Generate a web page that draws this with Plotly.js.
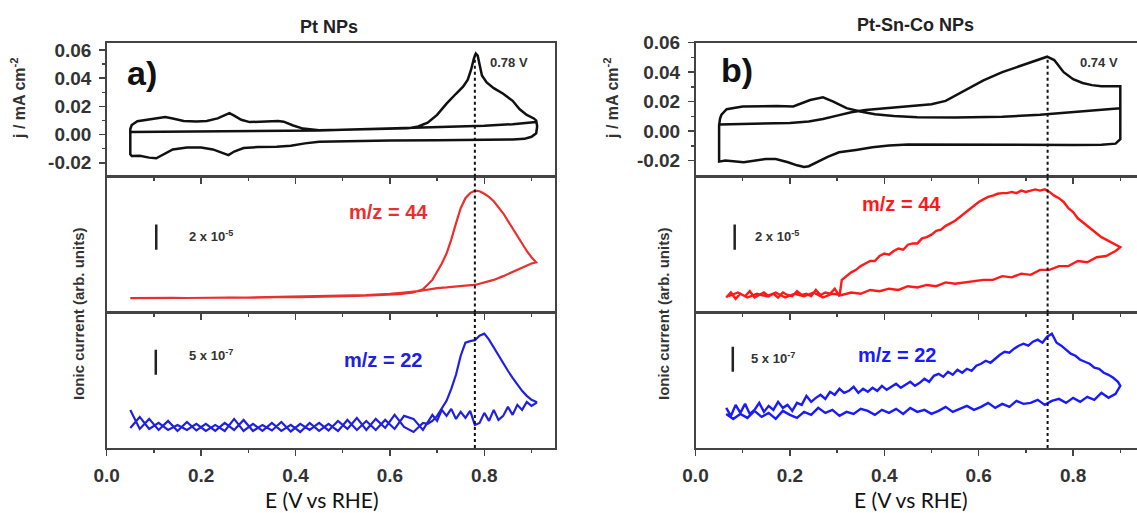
<!DOCTYPE html>
<html><head><meta charset="utf-8">
<script src="https://cdn.plot.ly/plotly-3.0.1.min.js"></script>
<style>html,body{margin:0;padding:0;overflow:hidden;background:#fff}#chart{width:1150px;height:513px}</style>
</head><body><div id="chart"></div>
<script>
// ---------- DATA ----------
const titleA = 'Pt NPs', titleB = 'Pt-Sn-Co NPs';
const peakA = 0.78, peakB = 0.746;
const peakLabelA = '0.78 V', peakLabelB = '0.74 V';
const xTicks = [0.0, 0.2, 0.4, 0.6, 0.8];
const xTickText = ['0.0', '0.2', '0.4', '0.6', '0.8'];
const jTicks = [-0.02, 0.00, 0.02, 0.04, 0.06];
const jTickText = ['-0.02', '0.00', '0.02', '0.04', '0.06'];

// CV Pt (mA cm-2)
const cvA_E = [0.05,0.1,0.2,0.3,0.4,0.45,0.5,0.55,0.6,0.64,0.66,0.68,0.70,0.72,0.74,0.755,0.765,0.772,0.778,0.782,0.786,0.79,0.795,0.805,0.82,0.84,0.86,0.875,0.89,0.905,0.91,
 0.912,0.91,0.9,0.885,0.86,0.8,0.7,0.6,0.5,0.45,0.42,0.39,0.36,0.32,0.29,0.27,0.258,0.245,0.225,0.2,0.17,0.14,0.12,0.105,0.09,0.07,0.053,0.05,
 0.05,0.053,0.065,0.085,0.105,0.124,0.14,0.163,0.19,0.212,0.235,0.25,0.26,0.27,0.285,0.303,0.34,0.363,0.375,0.395,0.416,0.45,0.5,0.6,0.7,0.8,0.86,0.9,0.91];
const cvA_J = [0.0018,0.0019,0.0020,0.0022,0.0026,0.003,0.0034,0.0037,0.0041,0.0046,0.0058,0.0085,0.014,0.022,0.029,0.034,0.039,0.046,0.054,0.0575,0.056,0.049,0.042,0.037,0.033,0.029,0.024,0.018,0.014,0.0115,0.010,
 0.006,0.001,-0.0015,-0.003,-0.0035,-0.0038,-0.004,-0.0042,-0.0045,-0.005,-0.0062,-0.0078,-0.0086,-0.0088,-0.0095,-0.012,-0.0145,-0.013,-0.0105,-0.0092,-0.0092,-0.0105,-0.014,-0.0168,-0.0163,-0.015,-0.0152,-0.014,
 0.004,0.0068,0.0095,0.0106,0.0118,0.0125,0.0115,0.0097,0.0094,0.0097,0.0115,0.014,0.0152,0.0135,0.0105,0.0089,0.0091,0.0097,0.0092,0.0065,0.0043,0.0032,0.0035,0.0043,0.0052,0.0063,0.0074,0.0085,0.009];

// CV Pt-Sn-Co (mA cm-2)
const cvB_E = [0.05,0.1,0.15,0.2,0.24,0.27,0.3,0.33,0.36,0.39,0.42,0.46,0.5,0.53,0.57,0.61,0.65,0.69,0.72,0.745,0.76,0.78,0.80,0.82,0.84,0.86,0.9,0.9,
 0.9,0.89,0.86,0.8,0.6,0.5,0.45,0.41,0.375,0.34,0.304,0.28,0.258,0.24,0.23,0.215,0.196,0.17,0.149,0.125,0.102,0.08,0.063,0.05,
 0.05,0.052,0.055,0.066,0.1,0.172,0.207,0.243,0.27,0.292,0.32,0.349,0.38,0.42,0.47,0.55,0.65,0.73,0.8,0.86,0.9];
const cvB_J = [0.0045,0.0048,0.005,0.0055,0.0065,0.0082,0.0105,0.0128,0.0143,0.0152,0.0163,0.0172,0.0183,0.0205,0.0275,0.0345,0.040,0.0442,0.0478,0.0505,0.0482,0.040,0.0352,0.0327,0.0312,0.0305,0.0305,0.026,
 -0.0055,-0.0085,-0.0093,-0.0095,-0.0095,-0.0094,-0.009,-0.0098,-0.011,-0.0128,-0.0144,-0.0175,-0.0211,-0.0238,-0.0244,-0.0232,-0.0211,-0.019,-0.0189,-0.0202,-0.0211,-0.0205,-0.020,-0.0207,
 0.004,0.0085,0.0111,0.0149,0.0167,0.0171,0.0167,0.0211,0.0229,0.020,0.0156,0.0133,0.0115,0.0102,0.0094,0.0093,0.0097,0.0111,0.0128,0.0145,0.0156];

// m/z = 44, Pt (units of 1e-5)
const ms44A_E = [0.05,0.08,0.11,0.14,0.17,0.2,0.23,0.26,0.29,0.32,0.35,0.38,0.41,0.44,0.47,0.5,0.53,0.56,0.59,0.62,0.65,
 0.67,0.69,0.70,0.71,0.72,0.73,0.74,0.75,0.76,0.77,0.78,0.79,0.80,0.81,0.82,0.83,0.84,0.85,0.86,0.87,0.88,0.89,0.90,0.91,
 0.90,0.88,0.86,0.84,0.82,0.80,0.78,0.76,0.74,0.72,0.70,0.68,0.66,0.63,0.60,0.55,0.50,0.45,0.40,0.35,0.30,0.25,0.20,0.15,0.10,0.05];
const ms44A_I = [1.15,1.17,1.14,1.18,1.16,1.19,1.17,1.2,1.18,1.22,1.2,1.24,1.23,1.27,1.26,1.3,1.33,1.36,1.42,1.47,1.6,
 1.85,2.6,3.2,3.9,4.7,5.8,7.1,8.3,9.1,9.5,9.7,9.65,9.45,9.2,8.85,8.4,7.9,7.3,6.7,6.1,5.4,4.9,4.4,4.0,
 3.9,3.55,3.2,2.9,2.6,2.4,2.2,2.15,2.05,2.0,1.95,1.8,1.7,1.6,1.5,1.4,1.35,1.3,1.25,1.22,1.2,1.18,1.17,1.16,1.15,1.15];

// m/z = 22, Pt (units of 1e-7)
const ms22A_fwdE = [0.05,0.07,0.09,0.11,0.13,0.15,0.17,0.19,0.21,0.23,
 0.25,0.27,0.29,0.31,0.33,0.35,0.37,0.39,0.41,0.43,
 0.45,0.47,0.49,0.51,0.53,0.55,0.57,0.59,0.61,0.63,
 0.65,0.67,
 0.68,0.69,0.70,0.71,0.72,0.73,0.74,0.75,0.76,0.77,0.78,0.79,0.80,0.81,0.82,0.83,0.84,0.85,0.86,0.87,0.88,0.89,0.90,0.91];
const ms22A_fwdI = [7.6,3.8,5.8,3.6,5.4,3.4,5.2,3.5,4.8,3.4,
 5.0,3.6,5.6,3.4,4.6,3.5,5.2,3.3,4.8,3.6,
 5.0,3.5,5.4,3.8,6.0,3.6,5.8,4.0,6.6,4.2,
 3.2,5.0,
 4.8,5.4,6.4,7.8,9.4,11.8,14.6,18.4,21.0,21.3,21.5,22.4,22.8,21.6,20.0,18.4,16.8,15.4,14.0,12.6,11.4,10.4,9.6,9.2];
const ms22A_revE = [0.91,0.90,0.89,0.88,0.87,0.86,0.85,0.84,0.83,0.82,
 0.81,0.80,0.79,0.78,0.77,0.76,0.75,0.74,0.73,0.72,
 0.71,0.70,0.69,
 0.67,0.65,0.63,0.61,0.59,0.57,0.55,0.53,0.51,0.49,
 0.47,0.45,0.43,0.41,0.39,0.37,0.35,0.33,0.31,0.29,
 0.27,0.25,0.23,0.21,0.19,0.17,0.15,0.13,0.11,0.09,
 0.07,0.05];
const ms22A_revI = [9.0,8.4,9.2,7.6,8.6,6.6,8.2,6.4,5.6,7.6,
 5.4,7.0,5.0,4.6,7.4,6.0,7.2,5.8,7.8,6.4,
 7.6,5.4,6.6,
 3.6,5.8,6.4,3.8,5.6,3.6,5.4,3.6,5.6,3.4,
 4.8,3.4,5.0,3.2,4.6,3.4,5.0,3.4,4.8,3.4,
 5.8,3.4,4.6,3.4,4.8,3.6,4.6,3.6,5.0,3.8,
 6.2,4.0];

// m/z = 44, Pt-Sn-Co (units of 1e-5)
const ms44B_fwdE = [0.065,0.075,0.085,0.095,0.105,0.115,0.125,0.135,0.145,0.155,
 0.165,0.175,0.185,0.195,0.205,0.215,0.225,0.235,0.245,0.255,
 0.265,0.275,0.285,0.295,0.305,0.31,0.32,0.33,0.34,0.35,
 0.36,0.37,0.38,0.39,0.40,0.41,0.42,0.43,0.44,0.45,
 0.46,0.47,0.48,0.49,0.50,0.51,0.52,0.53,0.54,0.55,
 0.56,0.57,0.58,0.59,0.60,0.61,0.62,0.63,0.64,0.65,
 0.66,0.67,0.68,0.69,0.70,0.71,0.72,0.73,0.74,0.75,
 0.76,0.77,0.78,0.79,0.80,0.81,0.82,0.83,0.84,0.85,
 0.86,0.87,0.88,0.89,0.90];
const ms44B_fwdI = [1.2,1.6,1.1,1.5,1.3,1.7,1.2,1.4,1.6,1.3,
 1.5,1.2,1.6,1.4,1.3,1.7,1.4,1.5,1.3,1.8,
 1.4,1.6,1.5,1.9,1.3,2.6,2.9,3.2,3.4,3.7,
 3.9,4.1,4.1,4.5,4.7,4.6,4.9,5.1,5.0,5.4,
 5.5,5.5,5.9,6.0,6.2,6.5,6.6,6.9,7.1,7.3,
 7.6,7.9,8.2,8.5,8.8,9.0,9.2,9.3,9.45,9.5,
 9.5,9.6,9.5,9.7,9.6,9.7,9.8,9.7,9.8,9.6,
 9.3,9.1,8.8,8.3,8.0,7.5,7.2,6.9,6.6,6.3,
 6.0,5.8,5.6,5.4,5.2];
const ms44B_revE = [0.89,0.87,0.85,0.83,0.81,0.79,0.77,0.75,0.73,0.71,
 0.69,0.67,0.65,0.63,0.61,0.59,0.57,0.55,0.53,0.51,
 0.49,0.47,0.45,0.43,0.41,0.39,0.37,0.35,0.33,0.31,
 0.29,0.27,0.25,0.23,0.21,0.19,0.17,0.15,0.13,0.11,
 0.09,0.07];
const ms44B_revI = [4.9,4.5,4.4,4.0,4.1,3.7,3.7,3.4,3.4,3.0,
 3.1,2.8,2.9,2.6,2.6,2.5,2.4,2.3,2.4,2.1,
 2.2,2.0,2.1,1.8,1.9,1.7,1.8,1.5,1.6,1.4,
 1.5,1.2,1.6,1.3,1.5,1.2,1.6,1.3,1.5,1.2,
 1.6,1.3];

// m/z = 22, Pt-Sn-Co (units of 1e-7)
const ms22B_fwdE = [0.065,0.075,0.085,0.095,0.105,0.115,0.125,0.135,0.145,0.155,
 0.165,0.175,0.185,0.195,0.205,0.215,0.225,0.235,0.245,0.255,
 0.265,0.275,0.285,0.295,0.305,0.315,0.325,0.335,0.345,0.355,
 0.365,0.375,0.385,0.395,0.405,0.415,0.425,0.435,0.445,0.455,
 0.465,0.475,0.485,0.495,0.505,0.515,0.525,0.535,0.545,0.555,
 0.565,0.575,0.585,0.595,0.605,0.615,0.625,0.635,0.645,0.655,
 0.665,0.675,0.685,0.695,0.705,0.715,0.725,0.735,0.745,0.755,
 0.765,0.775,0.785,0.795,0.805,0.815,0.825,0.835,0.845,0.855,
 0.865,0.875,0.885,0.895,0.9];
const ms22B_fwdI = [8.0,6.4,8.6,7.0,8.8,6.8,7.6,9.0,7.2,8.4,
 7.6,9.2,8.0,8.6,7.4,9.0,8.6,10.4,9.2,10.0,
 10.6,9.8,11.2,10.6,11.8,11.0,11.4,12.2,11.0,11.8,
 11.2,12.0,11.4,12.4,11.6,12.2,12.8,12.0,12.6,13.2,
 12.4,13.0,13.8,13.2,14.4,14.8,14.2,15.2,14.6,15.6,
 15.0,15.8,15.4,16.4,16.8,17.4,17.0,17.8,18.6,19.2,
 19.0,19.8,20.4,20.8,20.4,21.2,21.6,21.0,22.2,22.8,
 21.0,20.4,19.6,18.8,18.4,17.6,17.2,16.8,16.0,15.8,
 15.0,14.6,14.0,13.2,12.4];
const ms22B_revE = [0.89,0.875,0.86,0.845,0.83,0.815,0.8,0.785,0.77,0.755,
 0.74,0.725,0.71,0.695,0.68,0.665,0.65,0.635,0.62,0.605,
 0.59,0.575,0.56,0.545,0.53,0.515,0.5,0.485,0.47,0.455,
 0.44,0.425,0.41,0.395,0.38,0.365,0.35,0.335,0.32,0.305,
 0.29,0.275,0.26,0.245,0.23,0.215,0.2,0.185,0.17,0.155,
 0.14,0.125,0.11,0.095,0.08,0.065];
const ms22B_revI = [10.8,10.0,11.0,9.6,10.2,9.2,10.0,9.0,9.8,9.4,
 8.6,9.6,9.0,8.8,9.4,8.2,8.8,8.0,9.0,8.2,
 7.6,8.4,7.8,7.2,8.2,7.4,6.8,7.6,7.2,8.0,
 6.8,7.8,7.0,7.6,6.6,7.4,7.8,6.8,7.2,6.4,
 7.6,7.0,8.0,6.6,7.2,6.0,6.6,7.4,5.8,7.0,
 6.2,7.4,6.0,6.8,5.8,6.8];

// scale bars (value ranges)
const bar44 = [5, 7];        // 2 x 10^-5
const bar22A = [14.6, 19.6]; // 5 x 10^-7
const bar22B = [15.2, 20.2];

// ---------- LAYOUT ----------
const W = 1150, H = 513;
const px = x => x / W, py = y => 1 - y / H;
const domL = [px(106.7), px(555.1)], domR = [px(695.5), px(1143.9)];
const dTop = [py(176.8), py(42.7)], dMid = [py(312.6), py(176.8)], dBot = [py(448), py(312.6)];

const black = '#111', red1 = '#e8302e', red2 = '#ff1a1a', blue1 = '#2020e0', blue2 = '#1a1aff';
const tfont = {family: 'Liberation Sans, Arial, sans-serif', size: 19, color: '#333', weight: 'bold'};

function xax(dom, anchor, labels) {
  return {domain: dom, anchor: anchor, range: [0, 0.95], showgrid: false, zeroline: false,
    showline: true, linecolor: '#444', linewidth: 1.5, mirror: true,
    ticks: 'outside', tickvals: xTicks, ticktext: xTickText, ticklen: 6, tickwidth: 1.5, tickcolor: '#444',
    minor: {tickvals: [0.1, 0.3, 0.5, 0.7, 0.9], ticks: 'outside', ticklen: 3, tickwidth: 1.5, tickcolor: '#444'},
    showticklabels: labels, tickfont: tfont, ticklabelstandoff: 4};
}
function yaxTop(dom, anchor, rng) {
  return {domain: dom, anchor: anchor, range: rng, showgrid: false, zeroline: false,
    showline: true, linecolor: '#444', linewidth: 1.5, mirror: true,
    ticks: 'outside', tickvals: jTicks, ticktext: jTickText, ticklen: 6, tickwidth: 1.5, tickcolor: '#444',
    minor: {tickvals: [-0.01, 0.01, 0.03, 0.05], ticks: 'outside', ticklen: 3, tickwidth: 1.5, tickcolor: '#444'},
    tickfont: tfont, ticklabelstandoff: 4};
}
function yaxPlain(dom, anchor, rng) {
  return {domain: dom, anchor: anchor, range: rng, showgrid: false, zeroline: false,
    showline: true, linecolor: '#444', linewidth: 1.5, mirror: true, ticks: '', showticklabels: false};
}

const line = (x, y, xa, ya, color, w) => ({type: 'scatter', mode: 'lines', x: x, y: y, xaxis: xa, yaxis: ya,
  line: {color: color, width: w, shape: 'linear'}, hoverinfo: 'skip', showlegend: false});

const data = [
  line(cvA_E, cvA_J, 'x', 'y', black, 2.5),
  line(ms44A_E, ms44A_I, 'x2', 'y2', red1, 2.2),
  line(ms22A_fwdE.concat(ms22A_revE), ms22A_fwdI.concat(ms22A_revI), 'x3', 'y3', blue1, 2.2),
  line(cvB_E, cvB_J, 'x4', 'y4', black, 2.5),
  line(ms44B_fwdE.concat(ms44B_revE), ms44B_fwdI.concat(ms44B_revI), 'x5', 'y5', red2, 2.4),
  line(ms22B_fwdE.concat(ms22B_revE), ms22B_fwdI.concat(ms22B_revI), 'x6', 'y6', blue2, 2.4)
];

const bfont = (size, color) => ({family: 'Liberation Sans, Arial, sans-serif', size: size, color: color || '#222', weight: 'bold'});
const ann = (o) => Object.assign({showarrow: false, xanchor: 'center', yanchor: 'middle'}, o);
const efont = {family: 'Lato, Carlito, Open Sans, sans-serif', size: 21, color: '#111'};

const annotations = [
  ann({xref: 'x domain', yref: 'paper', x: 0.495, y: py(27), text: titleA, font: bfont(18)}),
  ann({xref: 'x4 domain', yref: 'paper', x: 0.49, y: py(25), text: titleB, font: bfont(18)}),
  ann({xref: 'paper', yref: 'paper', x: px(142), y: py(73), text: 'a)', font: bfont(34, '#111')}),
  ann({xref: 'paper', yref: 'paper', x: px(737), y: py(70), text: 'b)', font: bfont(34, '#111')}),
  ann({xref: 'x', yref: 'y', x: 0.852, y: 0.0513, text: peakLabelA, font: bfont(13, '#333')}),
  ann({xref: 'x4', yref: 'y4', x: 0.855, y: 0.0465, text: peakLabelB, font: bfont(13, '#333')}),
  ann({xref: 'x2', yref: 'y2', x: 0.17, y: 6.06, xanchor: 'left', text: '2 x 10<sup>-5</sup>', font: bfont(13, '#333')}),
  ann({xref: 'x5', yref: 'y5', x: 0.122, y: 6.08, xanchor: 'left', text: '2 x 10<sup>-5</sup>', font: bfont(13, '#333')}),
  ann({xref: 'x3', yref: 'y3', x: 0.17, y: 18.6, xanchor: 'left', text: '5 x 10<sup>-7</sup>', font: bfont(13, '#333')}),
  ann({xref: 'x6', yref: 'y6', x: 0.113, y: 17.9, xanchor: 'left', text: '5 x 10<sup>-7</sup>', font: bfont(13, '#333')}),
  ann({xref: 'x2', yref: 'y2', x: 0.598, y: 8.0, text: 'm/z = 44', font: bfont(20, red1)}),
  ann({xref: 'x5', yref: 'y5', x: 0.437, y: 8.65, text: 'm/z = 44', font: bfont(20, red2)}),
  ann({xref: 'x3', yref: 'y3', x: 0.586, y: 17.6, text: 'm/z = 22', font: bfont(20, blue1)}),
  ann({xref: 'x6', yref: 'y6', x: 0.427, y: 18.5, text: 'm/z = 22', font: bfont(20, blue2)}),
  ann({xref: 'paper', yref: 'paper', x: px(18), y: py(98), textangle: -90, text: 'j / mA cm<sup>-2</sup>', font: bfont(16, '#333')}),
  ann({xref: 'paper', yref: 'paper', x: px(611), y: py(98), textangle: -90, text: 'j / mA cm<sup>-2</sup>', font: bfont(16, '#333')}),
  ann({xref: 'paper', yref: 'paper', x: px(78), y: py(314), textangle: -90, text: 'Ionic current (arb. units)', font: bfont(15, '#333')}),
  ann({xref: 'paper', yref: 'paper', x: px(663), y: py(314), textangle: -90, text: 'Ionic current (arb. units)', font: bfont(15, '#333')}),
  ann({xref: 'x3 domain', yref: 'paper', x: 0.48, y: py(499), text: 'E (V vs RHE)', font: efont}),
  ann({xref: 'x6 domain', yref: 'paper', x: 0.48, y: py(499), text: 'E (V vs RHE)', font: efont})
];

const dot = {color: '#111', width: 2, dash: 'dot'};
const shapes = [
  {type: 'line', xref: 'x', yref: 'y', x0: peakA, x1: peakA, y0: -0.0299, y1: 0.057, line: dot},
  {type: 'line', xref: 'x2', yref: 'y2 domain', x0: peakA, x1: peakA, y0: 0, y1: 1, line: dot},
  {type: 'line', xref: 'x3', yref: 'y3 domain', x0: peakA, x1: peakA, y0: 0, y1: 1, line: dot},
  {type: 'line', xref: 'x4', yref: 'y4', x0: peakB, x1: peakB, y0: -0.031, y1: 0.0505, line: dot},
  {type: 'line', xref: 'x5', yref: 'y5 domain', x0: peakB, x1: peakB, y0: 0, y1: 1, line: dot},
  {type: 'line', xref: 'x6', yref: 'y6 domain', x0: peakB, x1: peakB, y0: 0, y1: 1, line: dot},
  {type: 'line', xref: 'x2', yref: 'y2', x0: 0.105, x1: 0.105, y0: bar44[0], y1: bar44[1], line: {color: '#222', width: 2.5}},
  {type: 'line', xref: 'x5', yref: 'y5', x0: 0.083, x1: 0.083, y0: bar44[0], y1: bar44[1], line: {color: '#222', width: 2.5}},
  {type: 'line', xref: 'x3', yref: 'y3', x0: 0.104, x1: 0.104, y0: bar22A[0], y1: bar22A[1], line: {color: '#222', width: 2.5}},
  {type: 'line', xref: 'x6', yref: 'y6', x0: 0.079, x1: 0.079, y0: bar22B[0], y1: bar22B[1], line: {color: '#222', width: 2.5}}
];

const layout = {
  width: W, height: H, margin: {l: 0, r: 0, t: 0, b: 0},
  paper_bgcolor: '#fff', plot_bgcolor: '#fff', showlegend: false,
  xaxis: xax(domL, 'y', false), yaxis: yaxTop(dTop, 'x', [-0.0299, 0.0652]),
  xaxis2: xax(domL, 'y2', false), yaxis2: yaxPlain(dMid, 'x2', [0, 10.8]),
  xaxis3: xax(domL, 'y3', true), yaxis3: yaxPlain(dBot, 'x3', [0, 27]),
  xaxis4: xax(domR, 'y4', false), yaxis4: yaxTop(dTop, 'x4', [-0.031, 0.060]),
  xaxis5: xax(domR, 'y5', false), yaxis5: yaxPlain(dMid, 'x5', [0, 10.8]),
  xaxis6: xax(domR, 'y6', true), yaxis6: yaxPlain(dBot, 'x6', [0, 27]),
  annotations: annotations, shapes: shapes
};

Plotly.newPlot('chart', data, layout, {staticPlot: true, displayModeBar: false});
</script></body></html>
